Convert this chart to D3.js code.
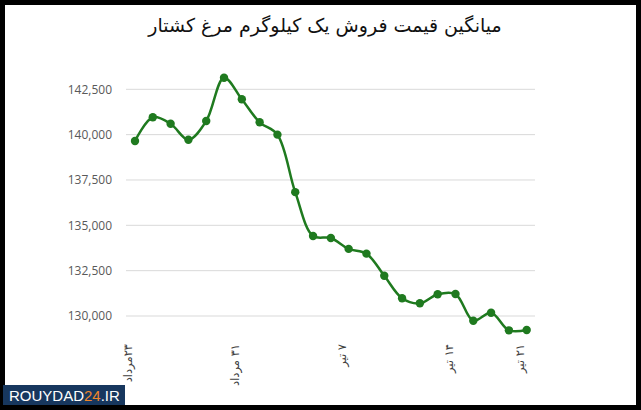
<!DOCTYPE html>
<html><head><meta charset="utf-8">
<script src="https://cdn.jsdelivr.net/npm/d3@7"></script>
<style>html,body{margin:0;padding:0;background:#fff;}svg{display:block;}</style>
</head><body>
<script>
const title = "میانگین قیمت فروش یک کیلوگرم مرغ کشتار";
const prices = [139650,140960,140600,139720,140750,143140,141950,140680,140000,136830,134410,134300,133700,133440,132220,130980,130700,131200,131210,129740,130180,129210,129230];
const xTickIndex = [0,6,12,18,22];
const xTickLabels = ["۲۳مرداد","۳۱ مرداد","۷ تیر","۱۴ تیر","۲۱ تیر"];
const yTicks = [130000,132500,135000,137500,140000,142500];

const W=641,H=410;
const svg=d3.select("body").append("svg").attr("width",W).attr("height",H);
svg.append("rect").attr("width",W).attr("height",H).attr("fill","#fff");

const x=d3.scalePoint().domain(d3.range(prices.length)).range([135,526.7]);
const y=d3.scaleLinear().domain([130000,142500]).range([316,89.3]);

// gridlines
svg.append("g").selectAll("line").data(yTicks).join("line")
  .attr("x1",126).attr("x2",535).attr("y1",d=>y(d)).attr("y2",d=>y(d))
  .attr("stroke","#d9d9d9").attr("stroke-width",1);

// y axis labels
const fmt=d3.format(",");
svg.append("g").selectAll("text").data(yTicks).join("text")
  .attr("x",112).attr("y",d=>y(d)).attr("dy","0.35em")
  .attr("text-anchor","end").attr("font-family","'Open Sans', sans-serif")
  .attr("font-size",12).attr("fill","#595959").text(d=>fmt(d));

// line
const line=d3.line().x((d,i)=>x(i)).y(d=>y(d)).curve(d3.curveCatmullRom.alpha(0.5));
svg.append("path").datum(prices).attr("d",line).attr("fill","none")
  .attr("stroke","#1f7a1f").attr("stroke-width",2.5);
svg.append("g").selectAll("circle").data(prices).join("circle")
  .attr("cx",(d,i)=>x(i)).attr("cy",d=>y(d)).attr("r",4.2).attr("fill","#1f7a1f");

// x labels
svg.append("g").selectAll("text").data(xTickIndex).join("text")
  .attr("transform",d=>`translate(${x(d)-7},344) rotate(-90)`)
  .attr("dy","0.35em").attr("direction","rtl").attr("text-anchor","start")
  .attr("font-family","'DejaVu Sans', sans-serif").attr("font-size",11.5).attr("fill","#404040")
  .text((d,i)=>xTickLabels[i]);

// title
svg.append("text").attr("x",325).attr("y",32).attr("text-anchor","middle")
  .attr("direction","rtl").attr("font-family","'DejaVu Sans', sans-serif")
  .attr("font-size",19).attr("fill","#111").text(title);

// frame
svg.append("rect").attr("x",2.5).attr("y",2.5).attr("width",W-5).attr("height",H-5)
  .attr("fill","none").attr("stroke","#000").attr("stroke-width",5);

// logo
const lg=svg.append("g");
lg.append("rect").attr("x",3).attr("y",385).attr("width",122).attr("height",20).attr("fill","#17375e");
const lt=lg.append("text").attr("x",9).attr("y",401).attr("font-family","'Liberation Sans', Arial, sans-serif")
  .attr("font-size",15).attr("fill","#fff");
lt.append("tspan").text("ROUYDAD");
lt.append("tspan").attr("fill","#f0852a").text("24");
lt.append("tspan").text(".IR");
</script>
</body></html>
